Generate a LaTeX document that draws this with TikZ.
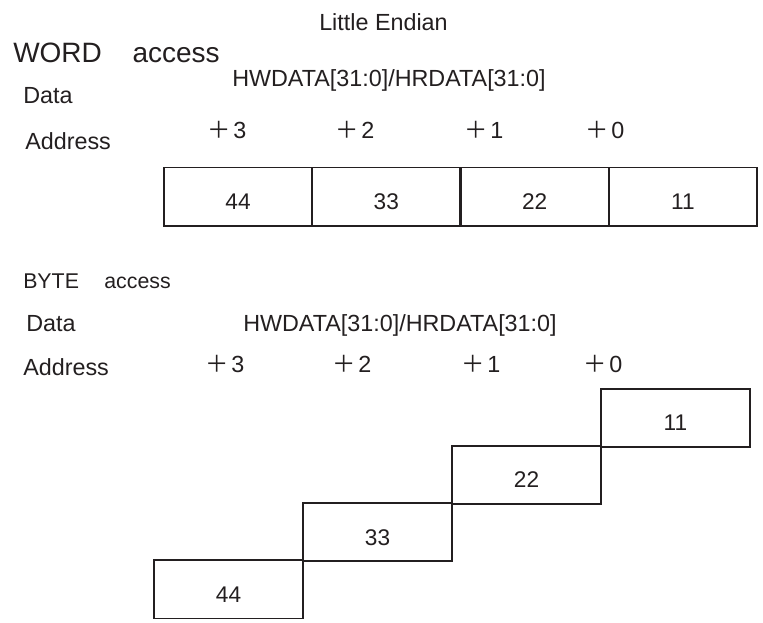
\documentclass[tikz,border=0pt]{standalone}
\usepackage{fontspec}
\setmainfont{Liberation Sans}
\newfontfamily\cjkfont{Noto Sans CJK JP}
\usepackage{xcolor}
\definecolor{InkBlack}{RGB}{35,31,32}
\usetikzlibrary{positioning}

\newcommand{\offs}[1]{{\cjkfont ＋}\hspace{2pt}#1}

\begin{document}
\begin{tikzpicture}[
  x=0.75pt, y=-0.75pt,
  txt/.style={
    inner sep=0pt, anchor=base west,
    text=InkBlack,
    font=\fontsize{17.5}{21}\selectfont},
  cell/.style={
    draw=InkBlack, line width=1.4pt,
    minimum width=111.4pt,
    minimum height=43.6pt,
    inner sep=0pt, text=InkBlack,
    font=\fontsize{17}{20}\selectfont,
    text height=19.5pt, text depth=0pt}
]
\useasboundingbox (0,0) rectangle (763,622);

\node[txt] (title) at (319,30) {Little Endian};

% word access
\node[txt, font=\fontsize{21}{25}\selectfont] (word) at (13,62)
  {WORD\hspace{23pt}access};
\node[txt] (wbus) at (232,86) {HWDATA[31:0]/HRDATA[31:0]};
\node[txt] (wdata) at (23,103) {Data};
\node[txt] (waddr) at (25,149) {Address};

\foreach \n/\x in {3/207,2/335,1/464,0/585}{
  \node[txt] (wa\n) at (\x,138) {\offs{\n}};
}

\foreach \v [count=\i from 0] in {44,33,22,11}{
  \node[cell] (w\v) at ({238.1+148.25*\i},196.5) {\v};
}

% byte access
\node[txt, font=\fontsize{16}{19}\selectfont] (byte) at (23,288)
  {BYTE\hspace{19pt}access};
\node[txt] (bdata) at (26,331) {Data};
\node[txt] (bbus) at (243,331) {HWDATA[31:0]/HRDATA[31:0]};
\node[txt] (baddr) at (23,375) {Address};

\foreach \n/\x in {3/205,2/332,1/461,0/583}{
  \node[txt] (ba\n) at (\x,372.5) {\offs{\n}};
}

\foreach \v [count=\i from 0] in {44,33,22,11}{
  \node[cell] (b\v) at ({228.5+149*\i},{589.4-57.25*\i}) {\v};
}
\end{tikzpicture}
\end{document}
